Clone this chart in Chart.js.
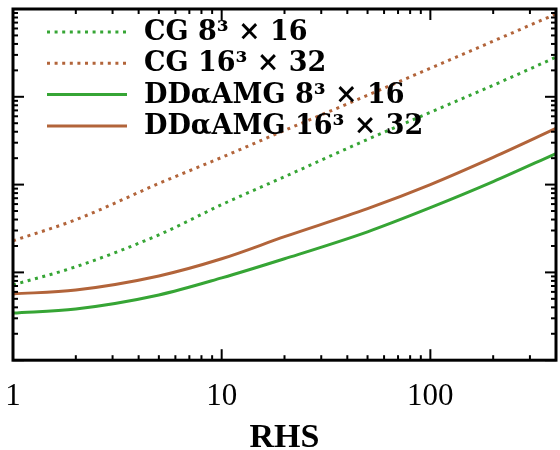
<!DOCTYPE html>
<html>
<head>
<meta charset="utf-8">
<script src="https://cdn.jsdelivr.net/npm/chart.js@4.4.0/dist/chart.umd.min.js"></script>
<style>
  html, body { margin: 0; padding: 0; background: #fff; }
</style>
</head>
<body>
<canvas id="rhsChart" width="560" height="450"></canvas>
<script>
// solve time vs. number of right-hand sides (log-log)
const rhs = [1, 2, 5, 10, 20, 50, 100, 200, 400];
const cgSmall = [7.2, 11.6, 26.8, 59.1, 123, 327, 665, 1353, 2827];
const cgLarge = [22.9, 39.8, 103, 204, 414, 1040, 2117, 4306, 8770];
const ddSmall = [3.44, 3.83, 5.53, 8.65, 14.3, 29.0, 54.6, 108, 226];
const ddLarge = [5.68, 6.31, 9.12, 14.3, 25.5, 53.2, 100, 204, 436];
const xLabels = [1, 10, 100];
const xRange = [1, 400];
const yRange = [1, 10000];

const green = '#36a535';
const brown = '#b2643a';

function series(label, values, color, dotted) {
  return {
    label: label,
    data: rhs.map((x, i) => ({ x: x, y: values[i] })),
    borderColor: color,
    backgroundColor: color,
    borderWidth: 3,
    borderDash: dotted ? [3, 4.6] : [],
    pointRadius: 0,
    cubicInterpolationMode: 'monotone',
    fill: false
  };
}

// log decade marks k*10^n between min and max, flagged major when k == 1
function logMarks(min, max) {
  const out = [];
  for (let d = Math.floor(Math.log10(min)); d <= Math.ceil(Math.log10(max)); d++) {
    for (let k = 1; k < 10; k++) {
      const v = k * Math.pow(10, d);
      if (v >= min && v <= max) out.push([v, k === 1]);
    }
  }
  return out;
}

// legend inside the top-left corner, drawn over the lines
const insideLegend = {
  id: 'insideLegend',
  afterDatasetsDraw(chart) {
    const { ctx, chartArea: a } = chart;
    ctx.save();
    ctx.font = 'bold 27px "DejaVu Serif"';
    ctx.textBaseline = 'middle';
    ctx.fillStyle = '#000';
    chart.data.datasets.forEach((ds, i) => {
      const y = a.top + 23 + i * 31.3;
      ctx.strokeStyle = ds.borderColor;
      ctx.lineWidth = ds.borderWidth;
      ctx.setLineDash(ds.borderDash);
      ctx.beginPath();
      ctx.moveTo(a.left + 34, y);
      ctx.lineTo(a.left + 114, y);
      ctx.stroke();
      ctx.fillText(ds.label, a.left + 131, y + 1);
    });
    ctx.restore();
  }
};

// black box around the plot with inward ticks on all four sides
const frame = {
  id: 'frame',
  afterDraw(chart) {
    const { ctx, chartArea: a, scales } = chart;
    ctx.save();
    ctx.strokeStyle = '#000';
    ctx.setLineDash([]);
    ctx.lineWidth = 2;
    const seg = (x1, y1, x2, y2) => {
      ctx.beginPath(); ctx.moveTo(x1, y1); ctx.lineTo(x2, y2); ctx.stroke();
    };
    logMarks(xRange[0], xRange[1]).forEach(([v, major]) => {
      const px = scales.x.getPixelForValue(v);
      const len = major ? 11 : 5;
      seg(px, a.bottom, px, a.bottom - len);
      seg(px, a.top, px, a.top + len);
    });
    logMarks(yRange[0], yRange[1]).forEach(([v, major]) => {
      const py = scales.y.getPixelForValue(v);
      const len = major ? 11 : 5;
      seg(a.left, py, a.left + len, py);
      seg(a.right, py, a.right - len, py);
    });
    ctx.lineWidth = 3;
    ctx.strokeRect(a.left, a.top, a.right - a.left, a.bottom - a.top);
    ctx.restore();
  }
};

const ctx = document.getElementById('rhsChart');
const rhsChart = new Chart(ctx, {
  type: 'line',
  data: {
    datasets: [
      series('CG 8³ × 16', cgSmall, green, true),
      series('CG 16³ × 32', cgLarge, brown, true),
      series('DDαAMG 8³ × 16', ddSmall, green, false),
      series('DDαAMG 16³ × 32', ddLarge, brown, false)
    ]
  },
  options: {
    responsive: false,
    animation: false,
    layout: {
      padding: { left: 13, right: 4, top: 9, bottom: 0 }
    },
    scales: {
      x: {
        type: 'logarithmic',
        min: xRange[0],
        max: xRange[1],
        grid: { display: false },
        border: { display: false },
        afterBuildTicks: scale => {
          scale.ticks = xLabels.map(v => ({ value: v }));
        },
        // the "1" label may hang past the frame; layout padding handles it
        afterFit: scale => {
          scale.paddingLeft = 0;
        },
        ticks: {
          autoSkip: false,
          maxRotation: 0,
          padding: 13.5,
          color: '#000',
          font: { family: 'Liberation Serif', size: 31, lineHeight: 1 },
          callback: v => String(v)
        },
        title: {
          display: true,
          text: 'RHS',
          color: '#000',
          font: { family: 'Liberation Serif', size: 34, weight: 'bold', lineHeight: 0.7 },
          padding: { top: 0, bottom: 0 }
        }
      },
      y: {
        type: 'logarithmic',
        min: yRange[0],
        max: yRange[1],
        display: false
      }
    },
    plugins: {
      legend: { display: false },
      tooltip: { enabled: false }
    }
  },
  plugins: [insideLegend, frame]
});
</script>
</body>
</html>
